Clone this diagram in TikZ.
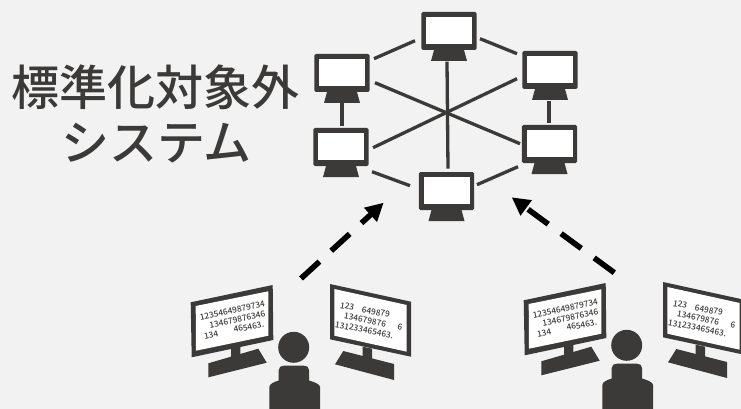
\documentclass[tikz,border=0pt]{standalone}
\usepackage{fontspec}
\setmainfont{Noto Sans CJK JP}
\newfontfamily\titlefont{Noto Sans CJK JP Medium}
\usetikzlibrary{arrows.meta,calc}
\definecolor{ink}{HTML}{3B3A39}
\definecolor{paper}{HTML}{F2F2F2}
\tikzset{
  x=1pt,y=-1pt,
  link/.style={draw=ink,line width=3.3pt},
  pcnode/.style={inner sep=0pt,fill=white,draw=none},
  bigarrow/.style={draw=black,line width=5.6pt,dash pattern=on 25pt off 16pt,-{Triangle[length=18pt,width=18pt]}},
  digits/.style={text=ink,font=\titlefont\fontsize{8.3}{8.3}\selectfont,inner sep=0pt},
  titletext/.style={text=ink,font=\titlefont\fontsize{48}{48}\selectfont,inner sep=0pt},
}
\newcommand{\pcicon}[3]{%
  \fill[ink,rounded corners=1.5pt] (#2-27.7,#3-19) rectangle (#2+27.7,#3+19);
  \fill[ink] (#2-15,#3+19) -- (#2+15,#3+19) -- (#2+18,#3+30) -- (#2-18,#3+30) -- cycle;
  \node[pcnode,minimum width=46pt,minimum height=27.5pt] (#1) at (#2,#3-.3) {};
}
\newcommand{\seatgroup}[3]{%
 \begin{scope}[shift={(#1,#2)}]
  \fill[ink,line join=round] (190.7,302.3) -- (272.7,285) -- (273.3,340) -- (191.7,357.3) -- cycle;
  \fill[white] (195.7,306) -- (268.3,291.3) -- (268.3,335.7) -- (196,350.7) -- cycle;
  \fill[ink] (231,348) -- (240.3,346) -- (240.3,357) -- (231,360) -- cycle;
  \fill[ink] (208.3,363.3) -- (258.3,348.7) -- (266.7,362.7) -- (208.3,377.3) -- cycle;
  \fill[ink,line join=round] (330,284) -- (411,301.7) -- (411,356.7) -- (330,339.3) -- cycle;
  \fill[white] (334.3,289) -- (406.7,305) -- (406.7,351.7) -- (334.3,335.7) -- cycle;
  \fill[ink] (362.7,346.7) -- (372,348.7) -- (372,360) -- (362.7,358) -- cycle;
  \fill[ink] (343.3,351) -- (394,364) -- (394,380) -- (335,364.3) -- cycle;
  \fill[ink] (293.7,347.3) circle[radius=15.5];
  \fill[ink] (269.3,411) -- (269.3,387) .. controls (269.3,384) and (274,382) .. (278.7,380.5)
     -- (278.7,370) .. controls (278.7,367) and (281,365.7) .. (284,365.7) -- (304,365.7)
     .. controls (307,365.7) and (309,367) .. (309,370) -- (309,380.5)
     .. controls (314,382) and (320,384) .. (320,387) -- (320,411) -- cycle;
  \node[digits,rotate=12] (#3a) at (232.3,310.3) {12354649879734};
  \node[digits,rotate=12] (#3b) at (237.3,319.3) {134679876346};
  \node[digits,rotate=12] (#3c) at (234,330) {134\hspace{16pt}465463.};
  \node[digits,rotate=-11] (#3d) at (365,310) {123\hspace{8pt}649879};
  \node[digits,rotate=-11] (#3e) at (373.3,321.7) {134679876\hspace{12pt}6};
  \node[digits,rotate=-11] (#3f) at (364.3,330) {131233465463.};
 \end{scope}
}
\begin{document}
\begin{tikzpicture}
\useasboundingbox (0,0) rectangle (741,409);
\fill[paper] (0,0) rectangle (741,409);
\pcicon{pt}{449}{31}
\pcicon{ptl}{342}{73}
\pcicon{ptr}{550}{70}
\pcicon{pml}{341}{147}
\pcicon{pmr}{549.5}{144}
\pcicon{pb}{446.5}{191}
\draw[link] ([shift={(-34,10)}]pt.center) -- ([shift={(32,-14)}]ptl.center);
\draw[link] ([shift={(31,8)}]pt.center) -- ([shift={(-33,-16)}]ptr.center);
\draw[link] ([shift={(0,30)}]ptl.center) -- ([shift={(1,-21)}]pml.center);
\draw[link] ([shift={(-1,31)}]ptr.center) -- ([shift={(-.5,-21)}]pmr.center);
\draw[link] ([shift={(31,25)}]pml.center) -- ([shift={(-36.5,-5)}]pb.center);
\draw[link] ([shift={(30.5,-6)}]pb.center) -- ([shift={(-31.5,23)}]pmr.center);
\draw[link] ([shift={(-2,31)}]pt.center) -- ([shift={(1.5,-22)}]pb.center);
\draw[link] ([shift={(33,10)}]ptl.center) -- ([shift={(-29.5,0)}]pmr.center);
\draw[link] ([shift={(-33,9)}]ptr.center) -- ([shift={(32,1)}]pml.center);
\node[titletext] (title1) at (155.5,87) {標準化対象外};
\node[titletext] (title2) at (156.7,143) {システム};
\seatgroup{0}{0}{l}
\seatgroup{333}{-2}{r}
\coordinate (a1s) at (301,278.5);
\coordinate (a1e) at (383.7,202.7);
\coordinate (a2s) at (614.3,272.7);
\coordinate (a2e) at (511.7,197.3);
\draw[bigarrow] (a1s) -- (a1e);
\draw[bigarrow] (a2s) -- (a2e);
\end{tikzpicture}
\end{document}
